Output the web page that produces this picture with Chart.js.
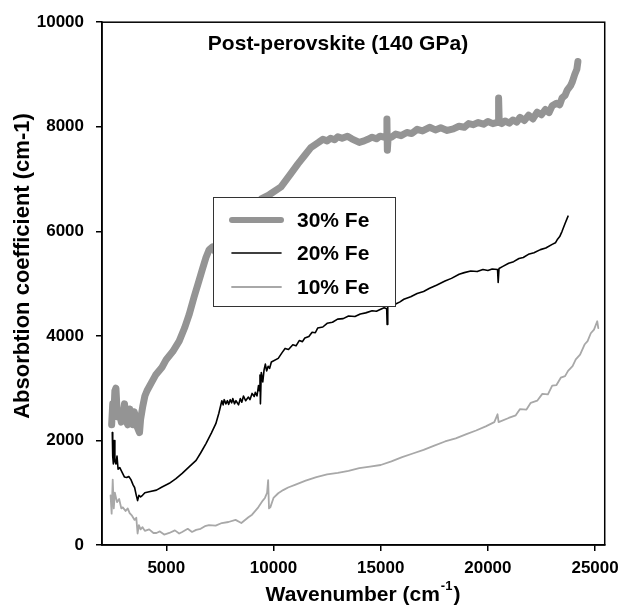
<!DOCTYPE html>
<html>
<head>
<meta charset="utf-8">
<script src="https://cdn.jsdelivr.net/npm/chart.js@4/dist/chart.umd.min.js"></script>
<style>
  html, body { margin: 0; padding: 0; background: #fff; }
  #wrap { width: 626px; height: 608px; position: relative; }
</style>
</head>
<body>
<div id="wrap"><canvas id="myChart" width="626" height="608"></canvas></div>
<script>
// Absorption spectra (wavenumber cm-1, coefficient cm-1)
const x30 = [2450, 2500, 2550, 2600, 2650, 2700, 2750, 2800, 2900, 3000, 3050, 3100, 3200, 3300, 3350, 3450, 3500, 3600, 3650, 3750, 3800, 3900, 4000, 4100, 4300, 4500, 4800, 5000, 5300, 5600, 5850, 6060, 6300, 6520, 6700, 6850, 7000, 7150, 7300, 7500, 8000, 8500, 9000, 9430, 9800, 10350, 10800, 11140, 11450, 11740, 12100, 12300, 12500, 12660, 12850, 13000, 13200, 13450, 13650, 13800, 14000, 14230, 14400, 14600, 14800, 14970, 15150, 15250, 15290, 15310, 15350, 15500, 15700, 15950, 16220, 16450, 16700, 16950, 17280, 17550, 17800, 18100, 18390, 18650, 18900, 19100, 19310, 19550, 19800, 20000, 20230, 20480, 20500, 20530, 20650, 20800, 21000, 21160, 21350, 21500, 21700, 21900, 22100, 22300, 22500, 22680, 22850, 23000, 23200, 23350, 23460, 23600, 23700, 23850, 23930, 24050, 24150, 24200];
const y30 = [2300, 2700, 2450, 2950, 3000, 2600, 2450, 2550, 2350, 2550, 2700, 2400, 2300, 2600, 2450, 2300, 2550, 2400, 2250, 2150, 2400, 2650, 2850, 2950, 3100, 3250, 3400, 3550, 3700, 3900, 4150, 4400, 4750, 5050, 5300, 5500, 5650, 5700, 5600, 5800, 6050, 6250, 6450, 6620, 6700, 6850, 7100, 7290, 7450, 7600, 7700, 7760, 7730, 7780, 7750, 7810, 7780, 7820, 7770, 7740, 7700, 7730, 7760, 7800, 7770, 7820, 7800, 7830, 8150, 7550, 7820, 7800, 7860, 7830, 7890, 7870, 7950, 7920, 7990, 7940, 7980, 7930, 7960, 8010, 7990, 8060, 8040, 8080, 8050, 8100, 8060, 8090, 8550, 8080, 8060, 8110, 8070, 8130, 8090, 8180, 8120, 8220, 8150, 8280, 8230, 8330, 8270, 8400, 8450, 8420, 8550, 8600, 8700, 8780, 8850, 9000, 9100, 9250];

const x20 = [2480, 2500, 2530, 2560, 2600, 2650, 2700, 2750, 2830, 2950, 3050, 3150, 3250, 3350, 3450, 3520, 3600, 3660, 3720, 3800, 3890, 4000, 4200, 4540, 4800, 5140, 5450, 5740, 6050, 6390, 6600, 6850, 7100, 7310, 7450, 7590, 7650, 7700, 7780, 7850, 7910, 7980, 8050, 8100, 8180, 8250, 8370, 8450, 8520, 8600, 8700, 8830, 8900, 9000, 9100, 9150, 9230, 9300, 9340, 9370, 9390, 9430, 9500, 9560, 9620, 9680, 9750, 9820, 9900, 10220, 10400, 10540, 10700, 10900, 11050, 11200, 11350, 11460, 11650, 11800, 11950, 12060, 12300, 12500, 12750, 12990, 13250, 13500, 13800, 14050, 14300, 14600, 14800, 15000, 15160, 15280, 15300, 15330, 15500, 15700, 15900, 16080, 16400, 16700, 17000, 17280, 17600, 18000, 18300, 18660, 18900, 19200, 19500, 19770, 20000, 20200, 20450, 20480, 20520, 20700, 20970, 21200, 21450, 21650, 21890, 22150, 22450, 22700, 23000, 23150, 23250, 23350, 23460, 23600, 23740];
const y20 = [2150, 1700, 1550, 2000, 1600, 1550, 1700, 1450, 1480, 1380, 1300, 1290, 1310, 1250, 1150, 1100, 950, 850, 950, 920, 950, 1000, 1020, 1050, 1110, 1180, 1270, 1370, 1490, 1620, 1760, 1940, 2140, 2320, 2520, 2760, 2680, 2780, 2700, 2760, 2690, 2780, 2720, 2800, 2700, 2760, 2680, 2800, 2730, 2850, 2760, 2830, 2780, 2900, 2840, 2920, 2850, 3050, 2950, 3250, 2700, 3300, 3120, 3350, 3460, 3330, 3420, 3380, 3500, 3570, 3680, 3760, 3740, 3830, 3810, 3910, 3890, 3960, 3990, 4070, 4060, 4150, 4170, 4240, 4260, 4320, 4330, 4380, 4370, 4420, 4440, 4480, 4470, 4510, 4540, 4520, 4220, 4570, 4580, 4610, 4650, 4700, 4750, 4810, 4850, 4910, 4970, 5050, 5100, 5180, 5210, 5240, 5230, 5270, 5250, 5280, 5270, 5020, 5290, 5330, 5390, 5420, 5480, 5500, 5560, 5590, 5650, 5680, 5750, 5780, 5850, 5900, 6000, 6150, 6290];

const x10 = [2400, 2450, 2500, 2550, 2600, 2700, 2800, 2900, 2970, 3100, 3200, 3290, 3400, 3520, 3600, 3660, 3720, 3800, 3890, 4000, 4200, 4400, 4540, 4700, 4900, 5140, 5400, 5600, 5740, 6000, 6200, 6390, 6600, 6800, 6990, 7300, 7590, 7900, 8230, 8500, 8830, 9000, 9290, 9500, 9600, 9700, 9750, 9790, 9850, 10000, 10220, 10450, 10680, 11000, 11500, 12000, 12500, 13000, 13500, 14000, 14500, 15000, 15500, 16000, 16500, 17000, 17500, 18000, 18500, 19000, 19450, 19900, 20300, 20450, 20500, 20970, 21300, 21500, 21800, 22000, 22300, 22540, 22800, 23000, 23200, 23400, 23600, 23740, 23950, 24100, 24300, 24520, 24650, 24800, 24950, 25100, 25150];
const y10 = [950, 600, 1250, 700, 1000, 820, 880, 700, 720, 650, 700, 610, 560, 480, 520, 220, 380, 300, 340, 270, 300, 230, 230, 260, 200, 230, 280, 220, 250, 310, 250, 290, 310, 360, 380, 370, 420, 440, 480, 420, 530, 580, 720, 850, 900, 1000, 1240, 700, 720, 900, 990, 1050, 1100, 1150, 1230, 1300, 1350, 1380, 1420, 1470, 1500, 1530, 1600, 1680, 1750, 1820, 1900, 1980, 2040, 2120, 2190, 2270, 2350, 2500, 2350, 2430, 2480, 2600, 2590, 2720, 2760, 2890, 2880, 3050, 3060, 3200, 3230, 3330, 3420, 3550, 3640, 3840, 3900, 4050, 4120, 4280, 4150];

const seriesLabels = ['30% Fe', '20% Fe', '10% Fe'];
const xTicks = [5000, 10000, 15000, 20000, 25000];
const yTicks = [0, 2000, 4000, 6000, 8000, 10000];

const colors = ['#949494', '#000000', '#a8a8a8'];
const widths = [7, 1.6, 1.8];
const FONT = '"Liberation Sans", Arial, sans-serif';

const toPoints = (xs, ys) => xs.map((x, i) => ({ x: x, y: ys[i] }));

// Frame, inner title, legend and axis titles
const decorations = {
  id: 'decorations',
  afterDraw(chart) {
    const ctx = chart.ctx;
    const a = chart.chartArea;
    ctx.save();
    ctx.strokeStyle = '#000';
    ctx.lineWidth = 1.5;
    ctx.strokeRect(a.left, a.top, a.right - a.left, a.bottom - a.top);

    ctx.fillStyle = '#000';
    ctx.font = 'bold 21px ' + FONT;
    ctx.textAlign = 'center';
    ctx.textBaseline = 'middle';
    ctx.fillText('Post-perovskite (140 GPa)', 338, 44);

    // legend
    ctx.fillStyle = '#fff';
    ctx.fillRect(213, 197, 182, 109);
    ctx.strokeStyle = '#333';
    ctx.lineWidth = 1;
    ctx.strokeRect(213.5, 197.5, 182, 109);
    const rows = [220, 253, 287];
    rows.forEach((yy, i) => {
      ctx.strokeStyle = colors[i];
      ctx.lineWidth = widths[i] === 7 ? 6 : widths[i];
      ctx.lineCap = 'round';
      ctx.beginPath();
      ctx.moveTo(232, yy);
      ctx.lineTo(281, yy);
      ctx.stroke();
      ctx.fillStyle = '#000';
      ctx.textAlign = 'left';
      ctx.fillText(seriesLabels[i], 297, yy + 1);
    });

    // y title
    ctx.save();
    ctx.translate(23, 266);
    ctx.rotate(-Math.PI / 2);
    ctx.textAlign = 'center';
    ctx.font = 'bold 22px ' + FONT;
    ctx.fillText('Absorbtion coefficient (cm-1)', 0, 0);
    ctx.restore();

    // x title with superscript
    const main = 'Wavenumber (cm';
    const sup = '-1';
    ctx.font = 'bold 21px ' + FONT;
    const w1 = ctx.measureText(main).width;
    const w3 = ctx.measureText(')').width;
    ctx.font = 'bold 13px ' + FONT;
    const w2 = ctx.measureText(sup).width;
    let xx = 362 - (w1 + w2 + w3) / 2;
    ctx.textAlign = 'left';
    ctx.font = 'bold 21px ' + FONT;
    ctx.fillText(main, xx, 595);
    ctx.font = 'bold 13px ' + FONT;
    ctx.fillText(sup, xx + w1 + 1, 586);
    ctx.font = 'bold 21px ' + FONT;
    ctx.fillText(')', xx + w1 + w2 + 2, 595);
    ctx.restore();
  }
};

const ctx = document.getElementById('myChart').getContext('2d');
new Chart(ctx, {
  type: 'line',
  data: {
    datasets: [
      { label: seriesLabels[0], data: toPoints(x30, y30) },
      { label: seriesLabels[1], data: toPoints(x20, y20) },
      { label: seriesLabels[2], data: toPoints(x10, y10) }
    ].map((d, i) => Object.assign(d, {
      borderColor: colors[i],
      borderWidth: widths[i],
      pointRadius: 0,
      tension: 0,
      fill: false,
      borderJoinStyle: 'round',
      borderCapStyle: 'round'
    }))
  },
  options: {
    responsive: false,
    animation: false,
    layout: { padding: { top: 19, right: 15, left: 0, bottom: 0 } },
    plugins: { legend: { display: false }, tooltip: { enabled: false } },
    scales: {
      x: {
        type: 'linear',
        min: 2000,
        max: 25450,
        afterBuildTicks: s => { s.ticks = xTicks.map(v => ({ value: v })); },
        afterFit: s => { s.height = 63; },
        grid: { drawOnChartArea: false, drawTicks: true, tickLength: 6, color: '#000', lineWidth: 1.5 },
        border: { display: true, color: '#000', width: 1.5 },
        ticks: { color: '#000', padding: 7, maxRotation: 0, callback: v => String(v), font: { family: FONT, size: 17, weight: 'bold' } }
      },
      y: {
        min: 0,
        max: 10000,
        afterBuildTicks: s => { s.ticks = yTicks.map(v => ({ value: v })); },
        afterFit: s => { s.width = 102; },
        grid: { drawOnChartArea: false, drawTicks: true, tickLength: 6, color: '#000', lineWidth: 1.5 },
        border: { display: true, color: '#000', width: 1.5 },
        ticks: { color: '#000', padding: 12, callback: v => String(v), font: { family: FONT, size: 17, weight: 'bold' } }
      }
    }
  },
  plugins: [decorations]
});
</script>
</body>
</html>
